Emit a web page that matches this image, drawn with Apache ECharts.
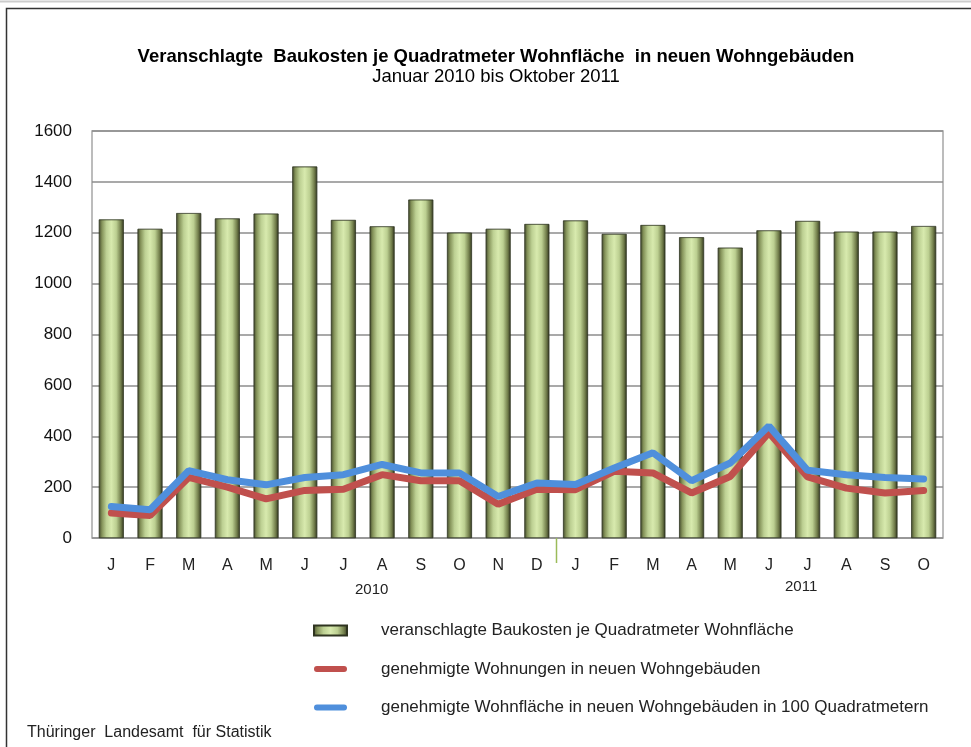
<!DOCTYPE html>
<html>
<head>
<meta charset="utf-8">
<script src="https://cdn.jsdelivr.net/npm/echarts@6/dist/echarts.min.js"></script>
<style>html,body{margin:0;padding:0;background:#fff;}#c{width:971px;height:747px;}</style>
</head>
<body>
<div id="c"></div>
<script>
const months = ['J','F','M','A','M','J','J','A','S','O','N','D','J','F','M','A','M','J','J','A','S','O'];
const years = ['2010','2011'];
const baukosten = [1252,1215,1277,1256,1275,1460,1250,1225,1330,1200,1215,1234,1248,1195,1230,1182,1141,1209,1246,1204,1204,1226];
const wohnungen = [98,88,238,200,154,187,192,249,225,225,133,192,190,262,256,177,242,414,240,196,177,187];
const wohnflaeche = [124,111,265,229,209,238,249,289,256,256,163,216,210,275,335,225,295,440,266,249,238,232];
const seriesNames = ['veranschlagte Baukosten je Quadratmeter Wohnfläche','genehmigte Wohnungen in neuen Wohngebäuden','genehmigte Wohnfläche in neuen Wohngebäuden in 100 Quadratmetern'];

const font = '"Liberation Sans", Arial, sans-serif';
const lineIcon = 'path://M3,0 L31,0 A3,3 0 0 1 31,6 L3,6 A3,3 0 0 1 3,0 Z';
const chart = echarts.init(document.getElementById('c'), null, {renderer:'canvas'});
const barGrad = new echarts.graphic.LinearGradient(0,0,1,0,[
  {offset:0,color:'#434a2c'},{offset:0.12,color:'#849259'},{offset:0.3,color:'#bdd093'},
  {offset:0.5,color:'#d8eaae'},{offset:0.7,color:'#bccf91'},{offset:0.88,color:'#74804d'},{offset:1,color:'#33381f'}]);
chart.setOption({
  backgroundColor:'#fff',
  animation:false,
  title:[{text:'Veranschlagte  Baukosten je Quadratmeter Wohnfläche  in neuen Wohngebäuden',
    left:491, top:42, textAlign:'center',
    textStyle:{fontFamily:font,fontSize:18.5,fontWeight:'bold',color:'#000'}},
    {text:'Januar 2010 bis Oktober 2011', left:491, top:62.5, textAlign:'center',
    textStyle:{fontFamily:font,fontSize:18.5,fontWeight:'normal',color:'#000'}}],
  grid:{left:92,right:28,top:131,bottom:209,show:true,borderColor:'#a6a6a6',borderWidth:1.5},
  legend:{orient:'vertical',left:308,top:617,itemGap:21.5,itemWidth:33,itemHeight:10,
    textStyle:{fontFamily:font,fontSize:17,color:'#222',padding:[0,0,0,29]},
    data:[{name:seriesNames[0],icon:'rect'},{name:seriesNames[1],icon:lineIcon},{name:seriesNames[2],icon:lineIcon}]},
  xAxis:{type:'category',data:months,
    axisLine:{show:false},
    axisTick:{show:false},
    axisLabel:{interval:0,margin:20,fontFamily:font,fontSize:16,color:'#222'}},
  yAxis:{type:'value',min:0,max:1600,interval:200,
    axisLine:{show:false},axisTick:{show:false},
    axisLabel:{margin:20,fontFamily:font,fontSize:17,color:'#111',formatter:function(v){return String(v);}},
    splitLine:{lineStyle:{color:'#8c8c8c',width:1.5}}},
  series:[
    {name:seriesNames[0],type:'bar',data:baukosten,barWidth:'64%',
      itemStyle:{color:barGrad,borderColor:'#2f3420',borderWidth:0.5}},
    {name:seriesNames[1],type:'line',data:wohnungen,symbol:'none',z:3,
      lineStyle:{color:'#c0504d',width:7,cap:'round'},itemStyle:{color:'#c0504d'}},
    {name:seriesNames[2],type:'line',data:wohnflaeche,symbol:'none',z:4,
      lineStyle:{color:'#4f8fdc',width:7,cap:'round'},itemStyle:{color:'#4f8fdc'}}
  ]
});
// separator between the two years, placed through the axis scale
const p11 = chart.convertToPixel({xAxisIndex:0}, 11);
const p12 = chart.convertToPixel({xAxisIndex:0}, 12);
const sepX = Math.round((p11 + p12) / 2) + 0.5;
const y0 = chart.convertToPixel({yAxisIndex:0}, 0);
chart.setOption({
  graphic:[
    {type:'rect',shape:{x:6.5,y:8.5,width:980,height:760},style:{fill:null,stroke:'#333',lineWidth:1.5},silent:true,z:-1},
    {type:'line',shape:{x1:0,y1:1.5,x2:971,y2:1.5},style:{stroke:'#ccc',lineWidth:2}},
    {type:'line',shape:{x1:sepX,y1:y0,x2:sepX,y2:y0+25},style:{stroke:'#9bbb59',lineWidth:1.5}},
    {type:'text',left:355,top:582,style:{text:years[0],font:'15px '+font,fill:'#222'}},
    {type:'text',left:785,top:579,style:{text:years[1],font:'15px '+font,fill:'#222'}},
    {type:'text',left:27,top:725,style:{text:'Thüringer  Landesamt  für Statistik',font:'16px '+font,fill:'#222'}}
  ]
});
</script>
</body>
</html>
